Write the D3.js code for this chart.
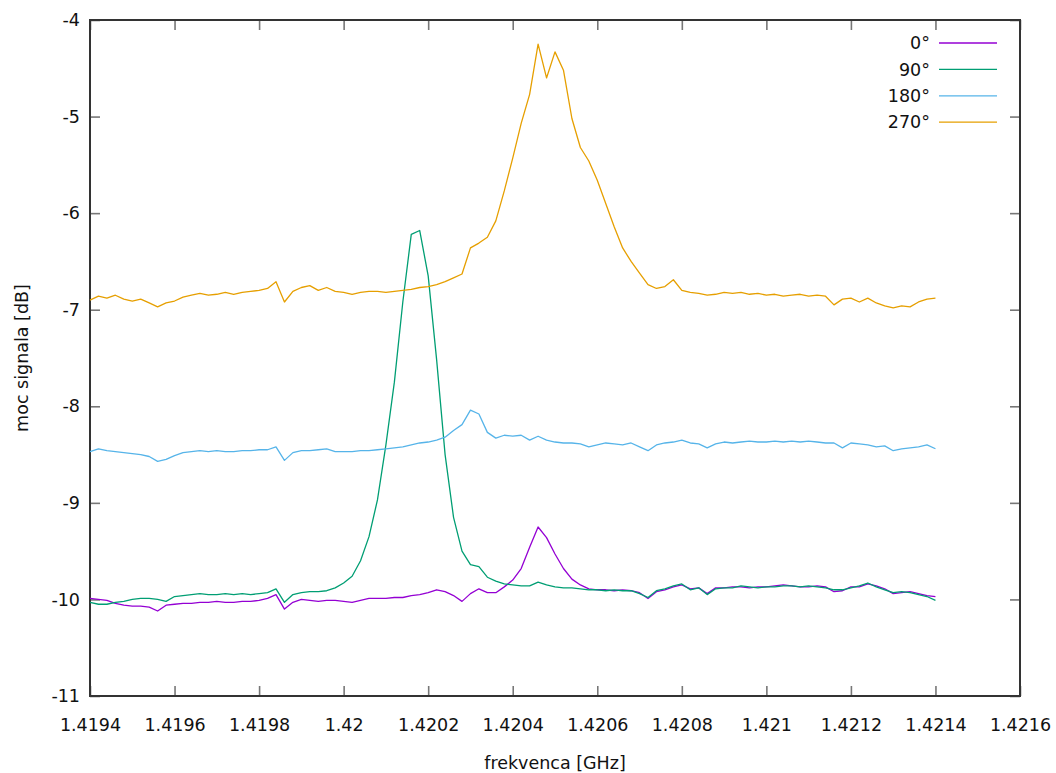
<!DOCTYPE html>
<html>
<head>
<meta charset="utf-8">
<script src="https://cdn.jsdelivr.net/npm/d3@7"></script>
<style>
  body { margin: 0; background: #fff; }
  svg text { font-family: "DejaVu Sans", sans-serif; fill: #111; }
</style>
</head>
<body>
<svg id="chart" width="1056" height="773"></svg>
<script>
// frequency grid, GHz (step 0.00002)
const freqStart = 1.4194;
const freqStep = 0.00002;

const series0 = [
  -9.99, -10.00, -10.01, -10.04, -10.06, -10.07, -10.07, -10.08, -10.12, -10.06,
  -10.05, -10.04, -10.04, -10.03, -10.03, -10.02, -10.03, -10.03, -10.02, -10.02,
  -10.01, -9.99, -9.95, -10.10, -10.03, -10.00, -10.01, -10.02, -10.01, -10.01,
  -10.02, -10.03, -10.01, -9.99, -9.99, -9.99, -9.98, -9.98, -9.96, -9.95,
  -9.93, -9.90, -9.92, -9.96, -10.02, -9.94, -9.89, -9.93, -9.93, -9.87,
  -9.80, -9.68, -9.46, -9.25, -9.36, -9.53, -9.68, -9.79, -9.85, -9.89,
  -9.90, -9.90, -9.91, -9.90, -9.91, -9.93, -9.99, -9.92, -9.90, -9.87,
  -9.85, -9.89, -9.88, -9.94, -9.88, -9.88, -9.87, -9.87, -9.88, -9.87,
  -9.87, -9.86, -9.85, -9.86, -9.87, -9.87, -9.86, -9.87, -9.92, -9.91,
  -9.87, -9.87, -9.84, -9.86, -9.89, -9.94, -9.93, -9.92, -9.94, -9.96,
  -9.97
];

const series90 = [
  -10.03, -10.05, -10.05, -10.03, -10.02, -10.00, -9.99, -9.99, -10.00, -10.02,
  -9.97, -9.96, -9.95, -9.94, -9.95, -9.95, -9.94, -9.95, -9.94, -9.95,
  -9.94, -9.93, -9.89, -10.03, -9.95, -9.93, -9.92, -9.92, -9.91, -9.88,
  -9.83, -9.76, -9.60, -9.35, -8.97, -8.40, -7.75, -6.92, -6.22, -6.18,
  -6.65, -7.52, -8.50, -9.15, -9.50, -9.64, -9.66, -9.77, -9.81, -9.84,
  -9.85, -9.86, -9.86, -9.82, -9.85, -9.87, -9.88, -9.88, -9.89, -9.90,
  -9.90, -9.91, -9.90, -9.91, -9.91, -9.94, -9.98, -9.91, -9.89, -9.86,
  -9.84, -9.90, -9.88, -9.95, -9.89, -9.88, -9.88, -9.86, -9.87, -9.88,
  -9.87, -9.87, -9.86, -9.86, -9.87, -9.86, -9.87, -9.88, -9.90, -9.90,
  -9.88, -9.86, -9.83, -9.87, -9.90, -9.93, -9.92, -9.93, -9.95, -9.97,
  -10.01
];

const series180 = [
  -8.47, -8.44, -8.46, -8.47, -8.48, -8.49, -8.50, -8.52, -8.57, -8.55,
  -8.51, -8.48, -8.47, -8.46, -8.47, -8.46, -8.47, -8.47, -8.46, -8.46,
  -8.45, -8.45, -8.42, -8.56, -8.48, -8.46, -8.46, -8.45, -8.44, -8.47,
  -8.47, -8.47, -8.46, -8.46, -8.45, -8.44, -8.43, -8.42, -8.40, -8.38,
  -8.37, -8.35, -8.32, -8.25, -8.19, -8.04, -8.08, -8.27, -8.33, -8.30,
  -8.31, -8.30, -8.35, -8.31, -8.35, -8.37, -8.38, -8.38, -8.39, -8.42,
  -8.40, -8.38, -8.39, -8.40, -8.38, -8.42, -8.46, -8.40, -8.38, -8.37,
  -8.35, -8.38, -8.39, -8.43, -8.39, -8.37, -8.38, -8.37, -8.36, -8.37,
  -8.37, -8.36, -8.37, -8.36, -8.37, -8.36, -8.37, -8.38, -8.38, -8.43,
  -8.38, -8.39, -8.40, -8.42, -8.41, -8.46, -8.44, -8.43, -8.42, -8.40,
  -8.44
];

const series270 = [
  -6.90, -6.86, -6.88, -6.85, -6.89, -6.91, -6.89, -6.93, -6.97, -6.93,
  -6.91, -6.87, -6.85, -6.83, -6.85, -6.84, -6.82, -6.84, -6.82, -6.81,
  -6.80, -6.78, -6.71, -6.92, -6.81, -6.77, -6.75, -6.80, -6.77, -6.81,
  -6.82, -6.84, -6.82, -6.81, -6.81, -6.82, -6.81, -6.80, -6.79, -6.77,
  -6.76, -6.74, -6.71, -6.67, -6.63, -6.36, -6.31, -6.25, -6.08, -5.77,
  -5.43, -5.07, -4.77, -4.25, -4.60, -4.33, -4.52, -5.02, -5.32, -5.46,
  -5.66, -5.90, -6.14, -6.36, -6.50, -6.62, -6.74, -6.78, -6.76, -6.69,
  -6.80, -6.82, -6.83, -6.85, -6.84, -6.82, -6.83, -6.82, -6.84, -6.83,
  -6.85, -6.84, -6.86, -6.85, -6.84, -6.86, -6.85, -6.86, -6.95, -6.89,
  -6.88, -6.92, -6.88, -6.93, -6.96, -6.98, -6.96, -6.97, -6.92, -6.89,
  -6.88
];

const seriesNames = ['0°', '90°', '180°', '270°'];
const seriesColors = ['#9400d3', '#009e73', '#56b4e9', '#e69f00'];
const xTicks = [1.4194, 1.4196, 1.4198, 1.42, 1.4202, 1.4204, 1.4206, 1.4208, 1.421, 1.4212, 1.4214, 1.4216];
const yTicks = [-11, -10, -9, -8, -7, -6, -5, -4];

const margin = {left: 90, right: 36, top: 20, bottom: 77};
const width = 1056, height = 773;

const svg = d3.select('#chart');

const x = d3.scaleLinear()
              .domain([1.4194, 1.4216])
              .range([margin.left, width - margin.right]);
const y = d3.scaleLinear()
              .domain([-11, -4])
              .range([height - margin.bottom, margin.top]);

const fmt = d => String(+d.toFixed(4));

// axes, ticks pointing inward like gnuplot
const axisB = svg.append('g')
                    .attr('transform', 'translate(0,' + y(-11) + ')')
                    .call(d3.axisBottom(x).tickValues(xTicks).tickFormat(fmt).tickSize(-10).tickPadding(23));
const axisT = svg.append('g')
                    .attr('transform', 'translate(0,' + y(-4) + ')')
                    .call(d3.axisTop(x).tickValues(xTicks).tickFormat('').tickSize(-10));
const axisL = svg.append('g')
                    .attr('transform', 'translate(' + x(1.4194) + ',0)')
                    .call(d3.axisLeft(y).tickValues(yTicks).tickFormat(d => String(d)).tickSize(-10).tickPadding(10));
const axisR = svg.append('g')
                    .attr('transform', 'translate(' + x(1.4216) + ',0)')
                    .call(d3.axisRight(y).tickValues(yTicks).tickFormat('').tickSize(-10));

[axisB, axisT, axisL, axisR].forEach(g => {
  g.select('.domain').remove();
  g.selectAll('.tick line').attr('stroke', '#777').attr('stroke-width', 1.6);
  g.selectAll('.tick text').attr('font-size', '17.5px').attr('font-family', '"DejaVu Sans", sans-serif').attr('fill', '#111');
});

// border
svg.append('rect')
    .attr('x', x(1.4194))
    .attr('y', y(-4))
    .attr('width', x(1.4216) - x(1.4194))
    .attr('height', y(-11) - y(-4))
    .attr('fill', 'none')
    .attr('stroke', '#333')
    .attr('stroke-width', 2);

const allSeries = [series0, series90, series180, series270];

const line = d3.line()
                .x((d, i) => x(freqStart + i * freqStep))
                .y(d => y(d));

svg.append('g')
    .selectAll('path')
    .data(allSeries)
    .enter()
      .append('path')
      .attr('fill', 'none')
      .attr('stroke', (d, i) => seriesColors[i])
      .attr('stroke-width', 1.3)
      .attr('stroke-linejoin', 'round')
      .attr('d', line);

// legend
const legend = svg.append('g');
seriesNames.forEach((name, i) => {
  const ly = 43 + i * 26.4;
  legend.append('text')
      .attr('x', 930)
      .attr('y', ly)
      .attr('dy', '0.35em')
      .attr('font-size', '17.5px')
      .style('text-anchor', 'end')
      .text(name);
  legend.append('line')
      .attr('x1', 939)
      .attr('x2', 997)
      .attr('y1', ly)
      .attr('y2', ly)
      .attr('stroke', seriesColors[i])
      .attr('stroke-width', 1.3);
});

// axis titles
svg.append('text')
    .attr('x', (x(1.4194) + x(1.4216)) / 2)
    .attr('y', 769)
    .attr('font-size', '17.5px')
    .style('text-anchor', 'middle')
    .text('frekvenca [GHz]');

svg.append('text')
    .attr('transform', 'translate(28,' + (y(-11) + y(-4)) / 2 + ') rotate(-90)')
    .attr('font-size', '17.5px')
    .style('text-anchor', 'middle')
    .text('moc signala [dB]');
</script>
</body>
</html>
